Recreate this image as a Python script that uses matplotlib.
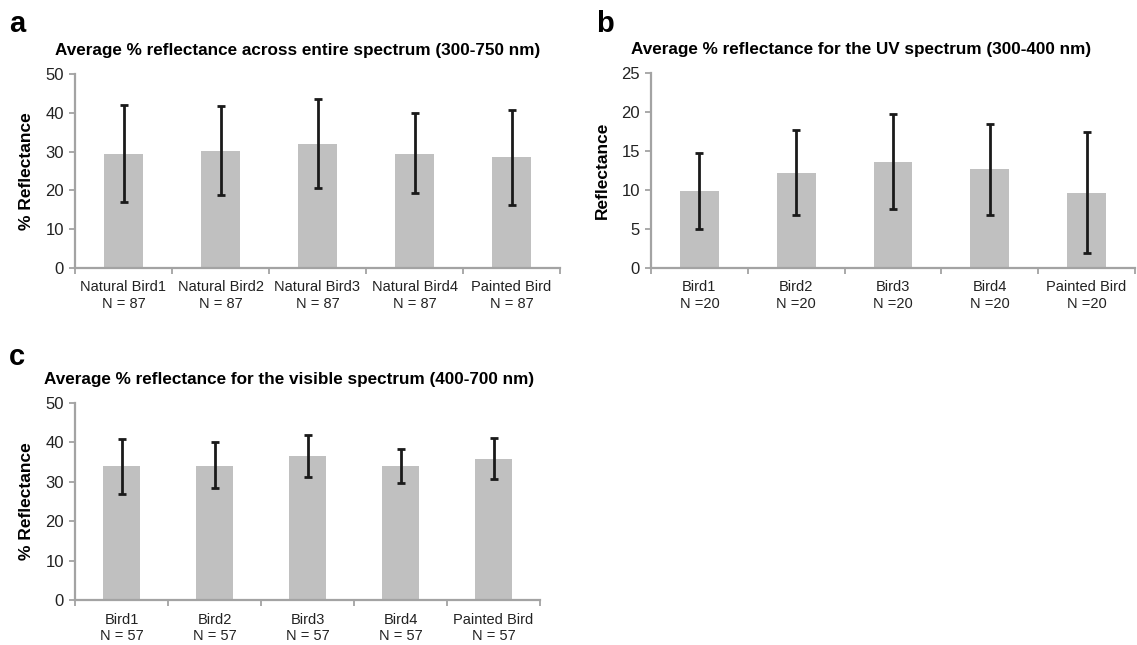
import numpy as np
import matplotlib.pyplot as plt

plt.rcParams["font.family"] = ["Liberation Sans", "DejaVu Sans"]

BAR = "#c0c0c0"
AXC = "#a3a3a3"

# panel a: whole spectrum
labels_a = ["Natural Bird1\nN = 87", "Natural Bird2\nN = 87", "Natural Bird3\nN = 87",
            "Natural Bird4\nN = 87", "Painted Bird\nN = 87"]
mean_a = [29.5, 30.1, 32.0, 29.5, 28.5]
hi_a = [41.9, 41.7, 43.5, 39.9, 40.7]
lo_a = [17.0, 18.7, 20.5, 19.3, 16.3]

# panel b: UV
labels_b = ["Bird1\nN =20", "Bird2\nN =20", "Bird3\nN =20", "Bird4\nN =20", "Painted Bird\nN =20"]
mean_b = [9.9, 12.2, 13.6, 12.7, 9.6]
hi_b = [14.7, 17.7, 19.7, 18.5, 17.4]
lo_b = [5.0, 6.8, 7.5, 6.8, 1.9]

# panel c: visible
labels_c = ["Bird1\nN = 57", "Bird2\nN = 57", "Bird3\nN = 57", "Bird4\nN = 57", "Painted Bird\nN = 57"]
mean_c = [33.9, 34.1, 36.6, 34.1, 35.8]
hi_c = [40.9, 40.0, 42.0, 38.4, 41.1]
lo_c = [27.0, 28.3, 31.2, 29.8, 30.6]


def panel(ax, labels, mean, hi, lo, ymax, ystep, ylabel, title, tx, letter, lx, ly):
    x = np.arange(len(labels))
    mean = np.array(mean)
    yerr = [mean - np.array(lo), np.array(hi) - mean]
    ax.bar(x, mean, width=0.4, color=BAR, zorder=2)
    ax.errorbar(x, mean, yerr=yerr, fmt="none", ecolor="#1a1a1a", elinewidth=2,
                capsize=3.2, capthick=2, zorder=3)
    ax.set_xlim(-0.5, len(labels) - 0.5)
    ax.set_ylim(0, ymax)
    ax.set_yticks(np.arange(0, ymax + 0.1, ystep))
    ax.set_xticks(x)
    ax.set_xticklabels(labels, fontsize=10.5, color="#222222", linespacing=1.2)
    ax.set_xticks(np.arange(-0.5, len(labels)), minor=True)
    ax.tick_params(axis="x", which="major", length=0, pad=9)
    ax.tick_params(axis="x", which="minor", length=4, width=1.3, color=AXC)
    ax.tick_params(axis="y", length=4, width=1.3, color=AXC, labelsize=12,
                   labelcolor="#222222", pad=4)
    for s in ["top", "right"]:
        ax.spines[s].set_visible(False)
    for s in ["left", "bottom"]:
        ax.spines[s].set_color(AXC)
        ax.spines[s].set_linewidth(1.6)
    ax.set_ylabel(ylabel, fontsize=12.5, fontweight="bold", labelpad=8)
    ax.set_title(title, fontsize=12.3, fontweight="bold", x=tx, pad=14)
    ax.figure.text(lx, ly, letter, fontsize=21, fontweight="bold")


W, H = 1137, 645
fig = plt.figure(figsize=(W / 100, H / 100), dpi=100)
ax_a = fig.add_axes([75 / W, 1 - 268 / H, 485 / W, 194 / H])
ax_b = fig.add_axes([651 / W, 1 - 268 / H, 484 / W, 195 / H])
ax_c = fig.add_axes([75 / W, 1 - 600 / H, 465 / W, 197 / H])

panel(ax_a, labels_a, mean_a, hi_a, lo_a, 50, 10, "% Reflectance",
      "Average % reflectance across entire spectrum (300-750 nm)", 0.46,
      "a", 9 / W, 1 - 32 / H)
panel(ax_b, labels_b, mean_b, hi_b, lo_b, 25, 5, "Reflectance",
      "Average % reflectance for the UV spectrum (300-400 nm)", 0.435,
      "b", 596 / W, 1 - 32 / H)
panel(ax_c, labels_c, mean_c, hi_c, lo_c, 50, 10, "% Reflectance",
      "Average % reflectance for the visible spectrum (400-700 nm)", 0.46,
      "c", 9 / W, 1 - 365 / H)

fig.savefig("out.png", dpi=100)
